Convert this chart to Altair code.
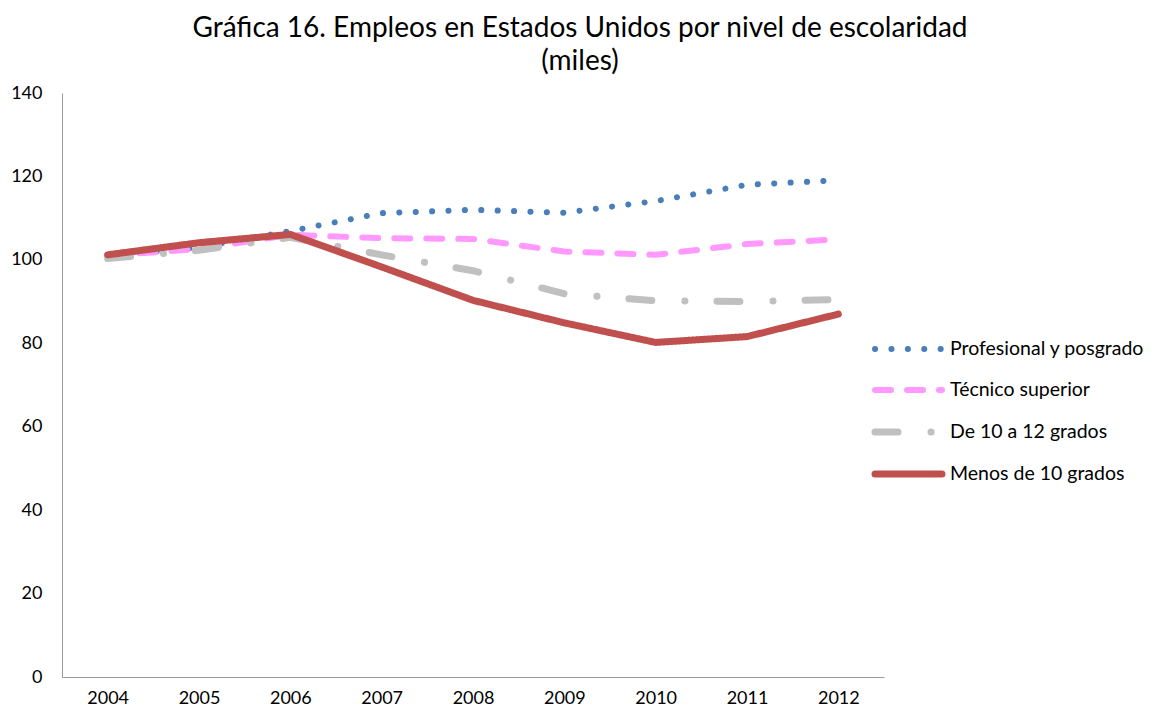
import altair as alt
import pandas as pd

years = ["2004", "2005", "2006", "2007", "2008", "2009", "2010", "2011", "2012"]
series = ["Profesional y posgrado", "Técnico superior", "De 10 a 12 grados", "Menos de 10 grados"]
profesional = [101.0, 103.0, 106.9, 111.2, 112.0, 111.3, 114.1, 118.0, 119.1]
tecnico = [101.0, 102.6, 106.0, 105.2, 105.0, 102.0, 101.2, 103.8, 104.9]
de10a12 = [100.3, 102.3, 105.4, 101.2, 97.4, 91.9, 90.2, 90.0, 90.5]
menos10 = [101.2, 104.1, 106.1, 98.3, 90.3, 84.9, 80.2, 81.6, 87.0]
values = [profesional, tecnico, de10a12, menos10]

colors = ["#4a7ebb", "#ff99ff", "#c0c0c0", "#c0504d"]
dashes = [[0.1, 16.3], [16, 16], [23, 33, 0.1, 32], [1, 0]]
widths = [6, 6, 7, 7]
legend_rows = [256, 297, 339, 381]

rows = []
for s, vals in zip(series, values):
    for y, v in zip(years, vals):
        rows.append({"year": y, "series": s, "value": v})
df = pd.DataFrame(rows)

FONT = "Lato"
W, H = 822, 584

x_enc = alt.X("year:O", scale=alt.Scale(type="point", padding=0.5, domain=years),
              axis=alt.Axis(title=None, labelAngle=0, ticks=False, labelPadding=12,
                            domainColor="#999999", labelFont=FONT, labelFontSize=18,
                            labelColor="#000000"))
y_enc = alt.Y("value:Q", scale=alt.Scale(domain=[0, 140], nice=False),
              axis=alt.Axis(title=None, values=list(range(0, 141, 20)), ticks=False,
                            grid=False, labelPadding=20, domainColor="#999999",
                            labelFont=FONT, labelFontSize=18, labelColor="#000000"))

layers = []
for i, s in enumerate(series):
    sub = df[df["series"] == s]
    layers.append(
        alt.Chart(sub).mark_line(color=colors[i], strokeDash=dashes[i], strokeWidth=widths[i],
                                 strokeCap="round", strokeJoin="round")
        .encode(x=x_enc, y=y_enc)
    )

# legend
for i, s in enumerate(series):
    ldf = pd.DataFrame({"series": [s]})
    layers.append(
        alt.Chart(ldf).mark_rule(color=colors[i], strokeDash=dashes[i], strokeWidth=widths[i],
                                 strokeCap="round")
        .encode(x=alt.value(813), x2=alt.value(880), y=alt.value(legend_rows[i]))
    )
    layers.append(
        alt.Chart(ldf).mark_text(align="left", baseline="middle", font=FONT, fontSize=19.5,
                                 color="#000000")
        .encode(x=alt.value(888), y=alt.value(legend_rows[i]), text="series:N")
    )

chart = alt.layer(*layers).properties(
    width=W, height=H,
    title=alt.TitleParams(
        ["Gráfica 16. Empleos en Estados Unidos por nivel de escolaridad", "(miles)"],
        font=FONT, fontSize=28, fontWeight="normal", color="#000000",
        anchor="middle", dx=107, offset=8, lineHeight=33),
    autosize=alt.AutoSizeParams(type="none"),
    padding={"left": 54, "top": 85, "right": 268, "bottom": 30},
).configure_view(stroke=None).configure_axis(grid=False)

chart.save("out.html", embed_options={"renderer": "svg", "actions": False})
